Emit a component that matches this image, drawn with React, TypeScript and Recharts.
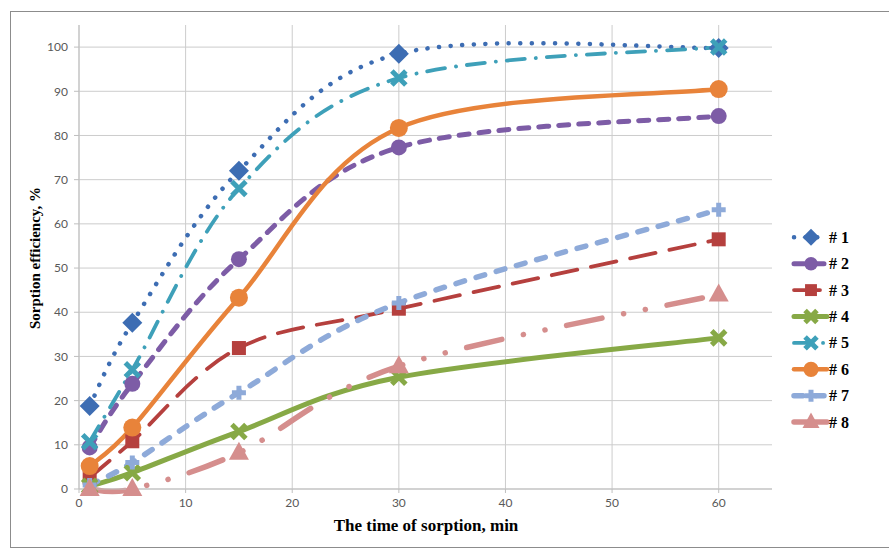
import React from 'react';
import { LineChart, Line, XAxis, YAxis, CartesianGrid } from 'recharts';

// sorption time, min
const times = [1, 5, 15, 30, 60];

// sorption efficiency, %
const eff1 = [18.8, 37.6, 72, 98.5, 99.8];
const eff2 = [9.4, 23.8, 52, 77.3, 84.4];
const eff3 = [2.6, 10.8, 31.9, 40.8, 56.5];
const eff4 = [0.6, 3.7, 13, 25.3, 34.2];
const eff5 = [10.7, 27, 68, 93, 100];
const eff6 = [5.2, 13.9, 43.3, 81.7, 90.5];
const eff7 = [0.9, 6, 21.8, 42.1, 63.2];
const eff8 = [0, 0, 8.2, 27.8, 44];

const seriesNames = ['# 1', '# 2', '# 3', '# 4', '# 5', '# 6', '# 7', '# 8'];
const xTicks = [0, 10, 20, 30, 40, 50, 60];
const yTicks = [0, 10, 20, 30, 40, 50, 60, 70, 80, 90, 100];

const allSeries = [eff1, eff2, eff3, eff4, eff5, eff6, eff7, eff8];

const data = times.map((t, i) => {
  const row: { [k: string]: number } = { t };
  allSeries.forEach((s, j) => {
    row[`s${j + 1}`] = s[i];
  });
  return row;
});

type Shape = 'diamond' | 'circle' | 'square' | 'x' | 'plus' | 'triangle';

const styles: Array<{ color: string; width: number; dash?: string; shape: Shape; size: number }> = [
  { color: '#3d6db3', width: 4.5, dash: '0.1 11.5', shape: 'diamond', size: 10 },
  { color: '#7d5ca6', width: 5, dash: '10 10', shape: 'circle', size: 8 },
  { color: '#b5403e', width: 3.8, dash: '26 14', shape: 'square', size: 7 },
  { color: '#87a946', width: 5, shape: 'x', size: 7 },
  { color: '#3ea0b9', width: 3.8, dash: '18 11 0.1 11', shape: 'x', size: 7 },
  { color: '#e8833a', width: 4.5, shape: 'circle', size: 9 },
  { color: '#8eaad9', width: 5.5, dash: '9 12', shape: 'plus', size: 7 },
  { color: '#d58e8d', width: 5.5, dash: '36 22 0.1 22 0.1 22', shape: 'triangle', size: 10 },
];

// Excel-like smoothed line (cardinal bezier through the points)
const excelSmooth = (context: any) => {
  let pts: number[][] = [];
  return {
    areaStart() {},
    areaEnd() {},
    lineStart() {
      pts = [];
    },
    point(x: number, y: number) {
      pts.push([+x, +y]);
    },
    lineEnd() {
      const n = pts.length;
      if (!n) return;
      context.moveTo(pts[0][0], pts[0][1]);
      for (let i = 0; i < n - 1; i++) {
        const p0 = pts[i - 1] || pts[i];
        const p1 = pts[i];
        const p2 = pts[i + 1];
        const p3 = pts[i + 2] || p2;
        context.bezierCurveTo(
          p1[0] + (p2[0] - p0[0]) / 6,
          p1[1] + (p2[1] - p0[1]) / 6,
          p2[0] - (p3[0] - p1[0]) / 6,
          p2[1] - (p3[1] - p1[1]) / 6,
          p2[0],
          p2[1]
        );
      }
    },
  };
};

const Marker = ({ cx, cy, shape, size, color }: { cx: number; cy: number; shape: Shape; size: number; color: string }) => {
  const s = size;
  switch (shape) {
    case 'diamond':
      return <polygon points={`${cx},${cy - s} ${cx + s},${cy} ${cx},${cy + s} ${cx - s},${cy}`} fill={color} />;
    case 'circle':
      return <circle cx={cx} cy={cy} r={s} fill={color} />;
    case 'square':
      return <rect x={cx - s} y={cy - s} width={2 * s} height={2 * s} fill={color} />;
    case 'x':
      return (
        <path
          d={`M${cx - s},${cy - s}L${cx + s},${cy + s}M${cx - s},${cy + s}L${cx + s},${cy - s}`}
          stroke={color}
          strokeWidth={5}
          fill="none"
        />
      );
    case 'plus':
      return (
        <path d={`M${cx - s},${cy}L${cx + s},${cy}M${cx},${cy - s}L${cx},${cy + s}`} stroke={color} strokeWidth={5} fill="none" />
      );
    case 'triangle':
      return <polygon points={`${cx},${cy - s - 1} ${cx + s},${cy + s * 0.7} ${cx - s},${cy + s * 0.7}`} fill={color} />;
  }
  return null;
};

const tickStyle = { fill: '#595959', fontSize: 12, fontFamily: 'Lato' };
const titleFont = "'Liberation Serif', 'Times New Roman', serif";

export default function App() {
  return (
    <div style={{ position: 'absolute', left: 0, top: 0, width: 889, height: 548, background: '#fff', overflow: 'hidden' }}>
      <div
        style={{
          position: 'absolute',
          left: 10,
          top: 11,
          width: 890,
          height: 535,
          border: '1px solid #8c8c8c',
        }}
      />
      <div style={{ position: 'absolute', left: 0, top: 0 }}>
        <LineChart width={889} height={548} data={data} margin={{ top: 25, right: 117, left: 29, bottom: 29 }}>
          <CartesianGrid stroke="#cccccc" strokeWidth={1} horizontalValues={yTicks} verticalValues={xTicks} />
          <XAxis
            dataKey="t"
            type="number"
            domain={[0, 65]}
            ticks={xTicks}
            height={30}
            tick={tickStyle}
            tickSize={4}
            tickMargin={5}
            axisLine={{ stroke: '#bfbfbf' }}
            tickLine={{ stroke: '#bfbfbf' }}
          />
          <YAxis
            type="number"
            domain={[0, 105]}
            ticks={yTicks}
            width={50}
            tick={tickStyle}
            tickSize={5}
            tickMargin={6}
            axisLine={{ stroke: '#bfbfbf' }}
            tickLine={{ stroke: '#bfbfbf' }}
          />
          {styles.map((st, j) => (
            <Line
              key={seriesNames[j]}
              dataKey={`s${j + 1}`}
              name={seriesNames[j]}
              type={excelSmooth as any}
              stroke={st.color}
              strokeWidth={st.width}
              strokeDasharray={st.dash}
              strokeLinecap="round"
              isAnimationActive={false}
              dot={(p: any) => (
                <Marker key={`${j}-${p.index}`} cx={p.cx} cy={p.cy} shape={st.shape} size={st.size} color={st.color} />
              )}
              activeDot={false}
            />
          ))}
        </LineChart>
      </div>
      {/* legend and axis titles */}
      <svg style={{ position: 'absolute', left: 0, top: 0 }} width={889} height={548}>
        {styles.map((st, j) => {
          const y = 237.3 + j * 26.4;
          return (
            <g key={seriesNames[j]}>
              <line
                x1={794}
                x2={827}
                y1={y}
                y2={y}
                stroke={st.color}
                strokeWidth={st.width}
                strokeDasharray={st.dash}
                strokeLinecap="round"
              />
              <Marker cx={811} cy={y} shape={st.shape} size={st.size * 0.85} color={st.color} />
              <text x={829} y={y + 5.5} fontFamily={titleFont} fontWeight="bold" fontSize={16} fill="#000">
                {seriesNames[j]}
              </text>
            </g>
          );
        })}
        <text x={426} y={531} textAnchor="middle" fontFamily={titleFont} fontWeight="bold" fontSize={17} fill="#000">
          The time of sorption, min
        </text>
        <text
          x={0}
          y={0}
          transform="translate(40, 258) rotate(-90)"
          textAnchor="middle"
          fontFamily={titleFont}
          fontWeight="bold"
          fontSize={15}
          fill="#000"
        >
          Sorption efficiency, %
        </text>
      </svg>
    </div>
  );
}
